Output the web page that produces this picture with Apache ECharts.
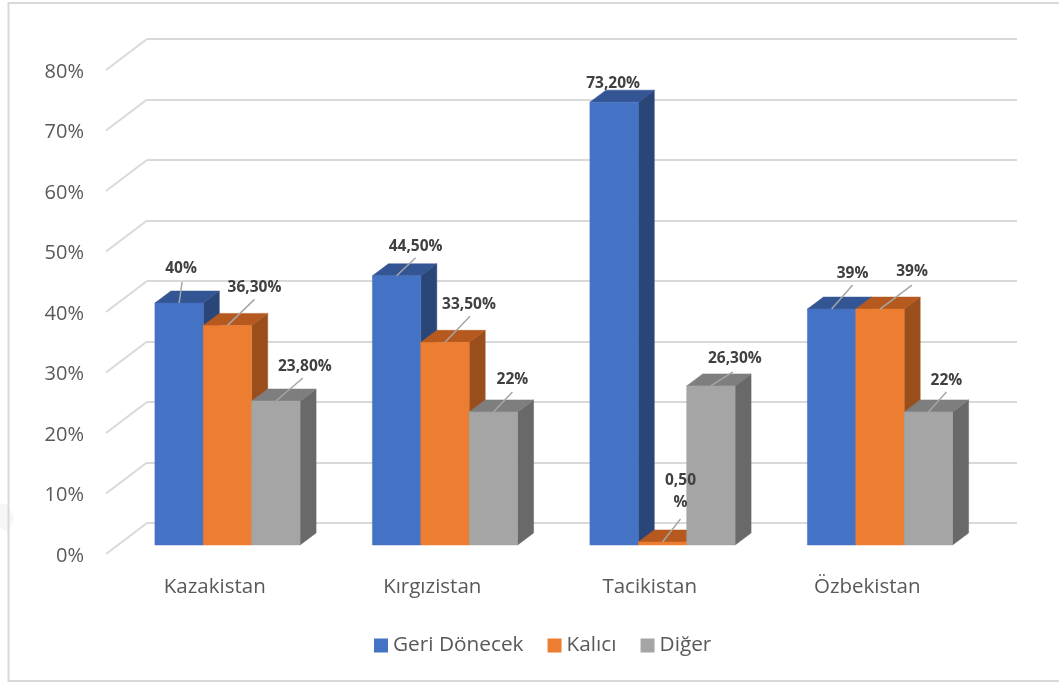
<!DOCTYPE html>
<html><head><meta charset="utf-8">
<style>html,body{margin:0;padding:0;background:#fff}#c{width:1059px;height:684px}</style>
<script src="https://cdn.jsdelivr.net/npm/echarts@6/dist/echarts.min.js"></script>
</head><body><div id="c"></div>
<script>
const categories = ['Kazakistan', 'Kırgızistan', 'Tacikistan', 'Özbekistan'];
const seriesNames = ['Geri Dönecek', 'Kalıcı', 'Diğer'];
const geriDonecek = [40, 44.5, 73.2, 39];
const kalici = [36.3, 33.5, 0.5, 39];
const diger = [23.8, 22, 26.3, 22];
const labelsGeri = ['40%', '44,50%', '73,20%', '39%'];
const labelsKalici = ['36,30%', '33,50%', '0,50\n%', '39%'];
const labelsDiger = ['23,80%', '22%', '26,30%', '22%'];
const yTicks = [0, 10, 20, 30, 40, 50, 60, 70, 80];

// label centre / leader end, in px from the top centre of the bar's front face
const labelOffsets = [
  [[2,-34],[27,-38],[29,-34]],
  [[19,-29],[24,-38],[19,-32]],
  [[-1,-19],[18,-50],[24,-27]],
  [[21,-35],[32,-37],[18,-31]]
];
const leaderEnds = [
  [[3,-21],[27,-26],[27,-23]],
  [[19,-18],[25,-26],[19,-20]],
  [null,[18,-23],[22,-14]],
  [[21,-24],[32,-24],[18,-20]]
];

const palettes = [
  {front:'#4472C4', top:'#335593', side:'#2A4679'},
  {front:'#ED7D31', top:'#B6591F', side:'#9A4E1C'},
  {front:'#A5A5A5', top:'#7E7E7E', side:'#696969'}
];
const values = [geriDonecek, kalici, diger];
const texts = [labelsGeri, labelsKalici, labelsDiger];
const GRID = '#D9D9D9', DX = 16, DY = -12, BAR_SHARE = 0.2225;

function barRender(si){
  return function(params, api){
    const cat = api.value(0), val = api.value(1);
    const top = api.coord([cat, val]), base = api.coord([cat, 0]);
    const w = api.size([1,0])[0]*BAR_SHARE;
    const xl = top[0] + (si-1.5)*w, xr = xl + w, yt = top[1], yb = base[1];
    const poly = (pts, fill) => ({type:'polygon', shape:{points:pts}, style:{fill:fill, stroke:fill, lineWidth:0.5}});
    return {type:'group', children:[
      poly([[xr,yt],[xr+DX,yt+DY],[xr+DX,yb+DY],[xr,yb]], palettes[si].side),
      poly([[xl,yt],[xl+DX,yt+DY],[xr+DX,yt+DY],[xr,yt]], palettes[si].top),
      poly([[xl,yt],[xr,yt],[xr,yb],[xl,yb]], palettes[si].front)
    ]};
  };
}
function labelRender(si){
  return function(params, api){
    const cat = api.value(0), val = api.value(1);
    const top = api.coord([cat, val]);
    const w = api.size([1,0])[0]*BAR_SHARE;
    const cx = top[0] + (si-1)*w, cy = top[1];
    const lo = labelOffsets[cat][si], le = leaderEnds[cat][si];
    const children = [];
    if(le) children.push({type:'line', shape:{x1:cx,y1:cy,x2:cx+le[0],y2:cy+le[1]}, style:{stroke:'#A6A6A6', lineWidth:1.5}});
    children.push({type:'text', style:{x:cx+lo[0], y:cy+lo[1], text:texts[si][cat], align:'center', verticalAlign:'middle',
      fontFamily:'Open Sans', fontWeight:'bold', fontSize:15.5, lineHeight:22, fill:'#404040'}});
    return {type:'group', children};
  };
}
function slantRender(params, api){
  const p = api.coord([0, api.value(0)]);
  const x = p[0] - api.size([1,0])[0]/2;
  return {type:'line', shape:{x1:x,y1:p[1],x2:x+41,y2:p[1]-31}, style:{stroke:GRID, lineWidth:2}};
}

const barSeries = seriesNames.map((n,si)=>({
  name:n, type:'custom', xAxisIndex:2, yAxisIndex:2, z:5,
  itemStyle:{color:palettes[si].front},
  renderItem:barRender(si), clip:false,
  data:categories.map((c,i)=>[i, values[si][i]])
}));
const labelSeries = seriesNames.map((n,si)=>({
  name:n+' etiket', type:'custom', xAxisIndex:2, yAxisIndex:2, z:8,
  renderItem:labelRender(si), clip:false,
  data:categories.map((c,i)=>[i, values[si][i]])
}));

const chart = echarts.init(document.getElementById('c'), null, {renderer:'canvas'});
chart.setOption({
  animation:false,
  backgroundColor:'#fff',
  graphic:[
    {type:'polygon', z:-2, shape:{points:[[0,503],[8,505],[14,518],[8,533],[0,527]]}, style:{fill:'#F6F6F6'}},
    {type:'polyline', z:-1, shape:{points:[[1059,3],[8.5,3],[8.5,681],[1059,681]]}, style:{fill:null, stroke:'#D9D9D9', lineWidth:2}}
  ],
  grid:[
    {left:147, width:870, top:39, height:484},
    {left:106, width:870, top:70, height:484},
    {left:118.75, width:870, top:61, height:484}
  ],
  xAxis:[
    {gridIndex:0, type:'category', data:categories, show:false},
    {gridIndex:1, type:'category', data:categories, axisLine:{show:false}, axisTick:{show:false},
     axisLabel:{margin:23, fontFamily:'Open Sans', fontSize:20.5, color:'#595959'}},
    {gridIndex:2, type:'category', data:categories, show:false}
  ],
  yAxis:[
    {gridIndex:0, type:'value', min:0, max:80, interval:10, axisLine:{show:false}, axisTick:{show:false}, axisLabel:{show:false},
     splitLine:{show:true, lineStyle:{color:GRID, width:2}}},
    {gridIndex:1, type:'value', min:0, max:80, interval:10, axisLine:{show:false}, axisTick:{show:false}, splitLine:{show:false},
     axisLabel:{margin:22, formatter:'{value}%', fontFamily:'Open Sans', fontSize:20, color:'#595959', lineHeight:30, verticalAlign:'top', padding:[-13,0,0,0]}},
    {gridIndex:2, type:'value', min:0, max:80, interval:10, show:false, splitLine:{show:false}}
  ],
  legend:{data:seriesNames, left:369, top:630, icon:'rect', itemWidth:14, itemHeight:14, itemGap:24,
    textStyle:{fontFamily:'Open Sans', fontSize:20.8, color:'#595959'}},
  series:[
    {name:'eksen', type:'custom', xAxisIndex:1, yAxisIndex:1, z:1, renderItem:slantRender, clip:false, encode:{y:0}, data:yTicks.map(t=>[t])},
    ...barSeries,
    ...labelSeries
  ]
});
</script></body></html>
